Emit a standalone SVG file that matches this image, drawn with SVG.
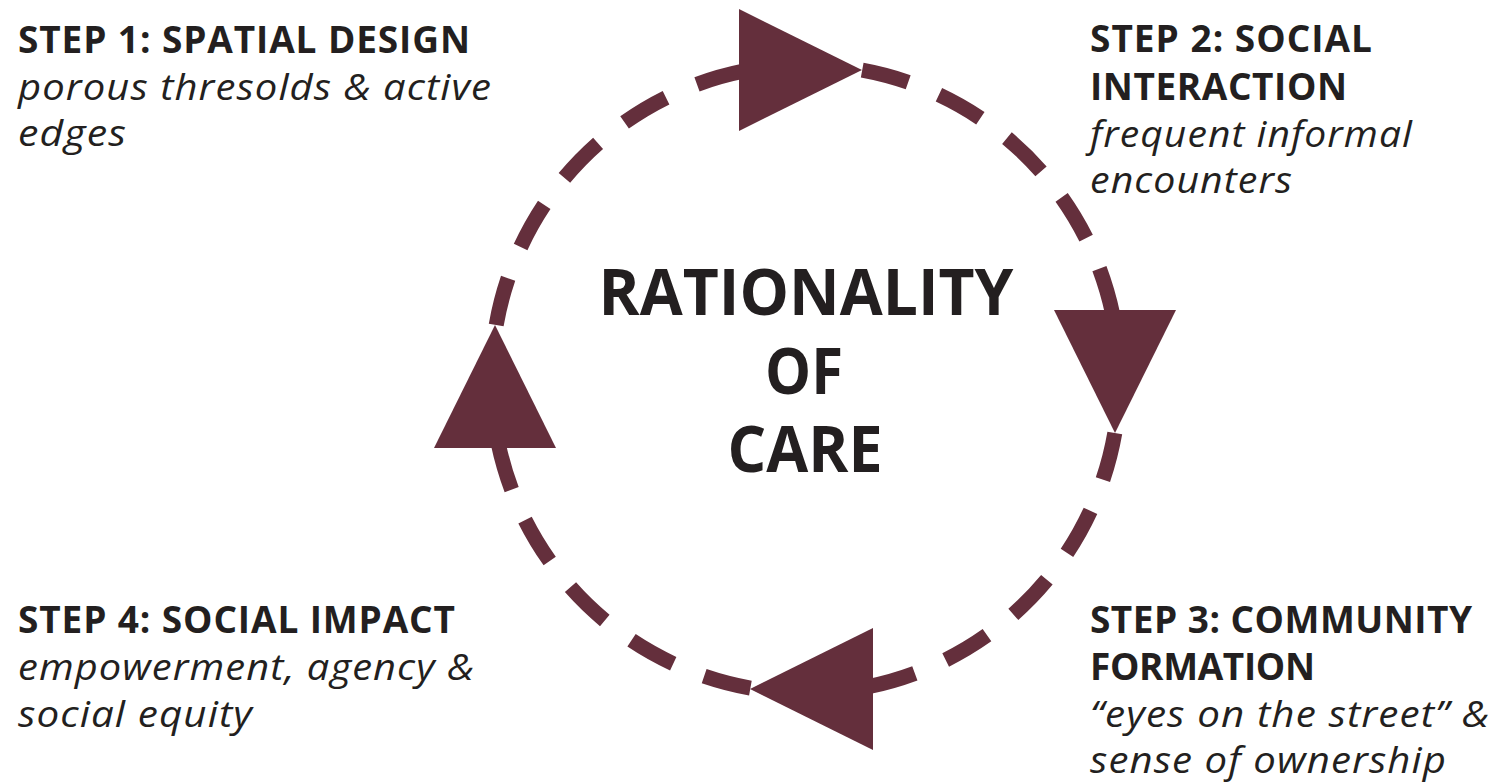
<svg xmlns="http://www.w3.org/2000/svg" width="1501" height="782" viewBox="0 0 1501 782">
  <style>
    .h { font-family: "Open Sans", "Noto Sans", sans-serif; font-weight: 700; font-size: 37px; fill: #231f20; }
    .s { font-family: "Open Sans", "Noto Sans", sans-serif; font-style: italic; font-size: 37px; letter-spacing: 1px; fill: #231f20; }
    .c { font-family: "Open Sans", "Noto Sans", sans-serif; font-weight: 700; font-size: 64px; fill: #231f20; text-anchor: middle; }
    .arc { fill: none; stroke: #642f3c; stroke-width: 15; stroke-dasharray: 48 33.5; }
    .head { fill: #642f3c; }
  </style>
  <defs>
    <path id="ah" d="M0 0 L-123 -61 L-123 61 Z"/>
  </defs>
  <rect width="1501" height="782" fill="#ffffff"/>
  <g id="connectors">
    <path class="arc" pathLength="374" d="M862.2 70.1 A314 314 0 0 1 1112.7 314.3"/>
    <path class="arc" pathLength="374" d="M1114.8 433 A314 314 0 0 1 868.6 686.6"/>
    <path class="arc" pathLength="374" d="M750.4 688.1 A314 314 0 0 1 498.3 443.7"/>
    <path class="arc" pathLength="374" d="M496.2 325 A314 314 0 0 1 743.4 71.2"/>
    <use href="#ah" class="head" transform="translate(862 70)"/>
    <use href="#ah" class="head" transform="translate(1115 433) rotate(90)"/>
    <use href="#ah" class="head" transform="translate(750 689) rotate(180)"/>
    <use href="#ah" class="head" transform="translate(495 325) rotate(-90)"/>
  </g>
  <g id="center">
    <text class="c" x="806" y="315" textLength="415" lengthAdjust="spacingAndGlyphs">RATIONALITY</text>
    <text class="c" x="804" y="394" textLength="78" lengthAdjust="spacingAndGlyphs">OF</text>
    <text class="c" x="805" y="472" textLength="155" lengthAdjust="spacingAndGlyphs">CARE</text>
  </g>
  <g id="step1">
    <text class="h" x="18" y="53" textLength="452" lengthAdjust="spacing">STEP 1: SPATIAL DESIGN</text>
    <text class="s" x="18" y="100" textLength="474" lengthAdjust="spacingAndGlyphs">porous thresolds &amp; active</text>
    <text class="s" x="18" y="146" textLength="109" lengthAdjust="spacingAndGlyphs">edges</text>
  </g>
  <g id="step2">
    <text class="h" x="1090" y="52" textLength="282" lengthAdjust="spacing">STEP 2: SOCIAL</text>
    <text class="h" x="1090" y="100" textLength="257" lengthAdjust="spacing">INTERACTION</text>
    <text class="s" x="1090" y="147" textLength="323" lengthAdjust="spacingAndGlyphs">frequent informal</text>
    <text class="s" x="1090" y="193" textLength="203" lengthAdjust="spacingAndGlyphs">encounters</text>
  </g>
  <g id="step3">
    <text class="h" x="1090" y="633" textLength="382" lengthAdjust="spacing">STEP 3: COMMUNITY</text>
    <text class="h" x="1090" y="680" textLength="225" lengthAdjust="spacing">FORMATION</text>
    <text class="s" x="1090" y="727" textLength="400" lengthAdjust="spacingAndGlyphs">“eyes on the street” &amp;</text>
    <text class="s" x="1090" y="773" textLength="357" lengthAdjust="spacingAndGlyphs">sense of ownership</text>
  </g>
  <g id="step4">
    <text class="h" x="18" y="633" textLength="437" lengthAdjust="spacing">STEP 4: SOCIAL IMPACT</text>
    <text class="s" x="18" y="680" textLength="457" lengthAdjust="spacingAndGlyphs">empowerment, agency &amp;</text>
    <text class="s" x="18" y="727" textLength="235" lengthAdjust="spacingAndGlyphs">social equity</text>
  </g>
</svg>
